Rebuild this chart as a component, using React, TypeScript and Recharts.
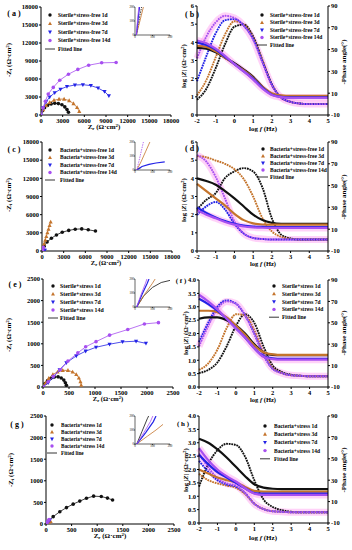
import React from "react";
import { ScatterChart, Scatter, ComposedChart, Line, XAxis, YAxis, Legend } from "recharts";

type Pt = [number, number];

const SERIF = "'Liberation Serif', 'Times New Roman', serif";
const COLORS = ["#111111", "#c4742c", "#2323e6", "#a74ff0"];
const MARKS = ["circle", "tri", "inv", "circle"];
const DAYS = ["1d", "3d", "7d", "14d"];

// log f (Hz) sample points shared by all Bode panels
const LOG_F = [-2, -1.5, -1, -0.5, 0, 0.5, 1, 1.5, 2, 2.5, 3, 3.5, 4, 4.5, 5];
const F_TICKS = [-2, -1, 0, 1, 2, 3, 4, 5];
const PHASE_TICKS = [-10, 10, 30, 50, 70, 90];
const Z_TICKS_6 = [0, 1, 2, 3, 4, 5, 6];
const Z_TICKS_4 = [0, 0.5, 1, 1.5, 2, 2.5, 3, 3.5, 4];
const NYQ_TICKS_BIG = [0, 3000, 6000, 9000, 12000, 15000, 18000];
const NYQ_TICKS_SMALL = [0, 500, 1000, 1500, 2000, 2500];
const INSET_TICKS = [0, 100, 200];

// (a) Sterile + stress-free, Nyquist
const A_1D: Pt[] = [[0, 0], [200, 700], [500, 1200], [900, 1600], [1400, 1850], [1900, 1950], [2400, 1900], [2900, 1700], [3300, 1350], [3600, 900], [3800, 450]];
const A_3D: Pt[] = [[0, 0], [300, 900], [700, 1600], [1200, 2100], [1800, 2450], [2500, 2650], [3200, 2650], [3900, 2400], [4500, 1900], [5000, 1250], [5300, 600]];
const A_7D: Pt[] = [[0, 0], [300, 1200], [700, 2200], [1200, 3000], [1900, 3700], [2700, 4300], [3600, 4750], [4700, 5000], [5800, 5050], [6900, 4900], [7900, 4500], [8800, 3900], [9400, 3200]];
const A_14D: Pt[] = [[0, 0], [300, 1200], [600, 2300], [1000, 3500], [1700, 4600], [2600, 5800], [3800, 6800], [5100, 7600], [6600, 8300], [8400, 8700], [10400, 8750]];
const IA_1D: Pt[] = [[8, 0], [18, 70], [28, 140], [38, 200]];
const IA_3D: Pt[] = [[8, 0], [22, 70], [36, 140], [48, 200]];
const IA_7D: Pt[] = [[8, 0], [14, 70], [20, 140], [26, 200]];
const IA_14D: Pt[] = [[8, 0], [12, 70], [17, 140], [22, 200]];

// (c) Bacteria + stress-free, Nyquist
const C_1D: Pt[] = [[0, 0], [300, 800], [700, 1500], [1300, 2100], [2000, 2650], [2800, 3100], [3700, 3400], [4600, 3600], [5500, 3650], [6400, 3500], [7400, 3300]];
const C_3D: Pt[] = [[0, 0], [150, 600], [300, 1200], [450, 1800], [600, 2400], [750, 3000], [900, 3600], [1050, 4200], [1200, 4800]];
const C_7D: Pt[] = [[0, 0], [100, 40], [200, 80], [300, 110], [400, 130]];
const C_14D: Pt[] = [[0, 0], [60, 200], [120, 400], [180, 600]];
const IC_1D: Pt[] = [[10, 0], [20, 10], [35, 18]];
const IC_3D: Pt[] = [[10, 0], [35, 60], [60, 130], [85, 200]];
const IC_7D: Pt[] = [[10, 0], [40, 25], [80, 40], [120, 50], [170, 58]];
const IC_14D: Pt[] = [[10, 0], [22, 60], [35, 130], [48, 200]];

// (e) Sterile + stress, Nyquist
const E_1D: Pt[] = [[0, 0], [40, 80], [90, 150], [150, 200], [220, 230], [290, 235], [350, 210], [400, 160], [430, 100], [450, 40]];
const E_3D: Pt[] = [[0, 0], [50, 100], [110, 200], [190, 290], [280, 350], [380, 385], [480, 385], [570, 350], [640, 290], [690, 210], [720, 120], [735, 40]];
const E_7D: Pt[] = [[0, 0], [100, 100], [200, 230], [320, 400], [450, 560], [640, 720], [820, 830], [1020, 920], [1280, 990], [1530, 1045], [1790, 1060], [1980, 1010]];
const E_14D: Pt[] = [[0, 0], [100, 120], [200, 250], [330, 400], [480, 600], [670, 790], [820, 930], [1020, 1050], [1280, 1200], [1630, 1330], [1950, 1460], [2220, 1490]];
const IE_1D: Pt[] = [[10, 0], [50, 80], [100, 140], [150, 175], [200, 190]];
const IE_3D: Pt[] = [[10, 0], [55, 90], [100, 170], [115, 200]];
const IE_7D: Pt[] = [[10, 0], [40, 90], [70, 170], [80, 200]];
const IE_14D: Pt[] = [[10, 0], [35, 90], [60, 170], [68, 200]];

// (g) Bacteria + stress, Nyquist
const G_1D: Pt[] = [[0, 0], [60, 80], [140, 170], [270, 285], [400, 380], [530, 460], [660, 530], [790, 595], [930, 645], [1080, 635], [1200, 600], [1300, 555]];
const G_3D: Pt[] = [[0, 0], [30, 20], [60, 40], [90, 60]];
const G_7D: Pt[] = [[0, 0], [25, 30], [50, 60], [75, 90]];
const G_14D: Pt[] = [[0, 0], [20, 35], [40, 70], [60, 105]];
const IG_1D: Pt[] = [[10, 0], [40, 90], [70, 180], [78, 200]];
const IG_3D: Pt[] = [[10, 0], [70, 55], [120, 100], [160, 140]];
const IG_7D: Pt[] = [[10, 0], [60, 80], [105, 160], [120, 200]];
const IG_14D: Pt[] = [[10, 0], [50, 80], [88, 160], [102, 200]];

// (b) Sterile + stress-free, Bode
const B_Z1D = [3.7, 3.65, 3.45, 3.15, 2.85, 2.5, 2.1, 1.55, 1.15, 1.02, 1.0, 1.0, 1.0, 1.0, 1.0];
const B_Z3D = [3.8, 3.75, 3.5, 3.15, 2.8, 2.45, 2.05, 1.55, 1.2, 1.08, 1.05, 1.05, 1.05, 1.05, 1.05];
const B_Z7D = [4.0, 3.85, 3.6, 3.2, 2.8, 2.4, 2.0, 1.5, 1.12, 1.0, 0.97, 0.97, 0.97, 0.97, 0.97];
const B_Z14D = [4.1, 3.95, 3.65, 3.25, 2.8, 2.4, 1.95, 1.45, 1.1, 0.98, 0.95, 0.95, 0.95, 0.95, 0.95];
const B_P1D = [4, 14, 33, 55, 71, 73, 62, 40, 18, 6, 2, 0.5, 0, 0, 0];
const B_P3D = [8, 22, 43, 64, 76, 73, 61, 40, 18, 6, 2, 0.5, 0, 0, 0];
const B_P7D = [21, 44, 65, 77, 78, 72, 60, 39, 18, 6, 2, 0.5, 0, 0, 0];
const B_P14D = [42, 62, 75, 81, 79, 72, 59, 38, 17, 6, 2, 0.5, 0, 0, 0];

// (d) Bacteria + stress-free, Bode
const D_Z1D = [4.0, 3.85, 3.65, 3.3, 2.9, 2.45, 2.0, 1.7, 1.55, 1.5, 1.5, 1.5, 1.5, 1.5, 1.5];
const D_Z3D = [3.7, 3.3, 2.9, 2.5, 2.05, 1.7, 1.52, 1.46, 1.45, 1.45, 1.45, 1.45, 1.45, 1.45, 1.45];
const D_Z7D = [2.4, 2.1, 1.85, 1.65, 1.5, 1.4, 1.35, 1.33, 1.32, 1.32, 1.32, 1.32, 1.32, 1.32, 1.32];
const D_Z14D = [2.25, 2.0, 1.8, 1.6, 1.45, 1.35, 1.3, 1.28, 1.27, 1.27, 1.27, 1.27, 1.27, 1.27, 1.27];
const D_P1D = [28, 37, 43, 57, 63, 66, 63, 48, 20, 5, 1.5, 0.5, 0.5, 0.5, 0.5];
const D_P3D = [77, 76, 73, 70, 65, 56, 40, 20, 8, 3, 1, 0.5, 0.5, 0.5, 0.5];
const D_P7D = [23, 31, 35, 28, 15, 6, 2, 1, 0.5, 0.5, 0.5, 0.5, 0.5, 0.5, 0.5];
const D_P14D = [78, 72, 58, 38, 17, 6, 2, 1, 0.5, 0.5, 0.5, 0.5, 0.5, 0.5, 0.5];

// (f) Sterile + stress, Bode
const F_Z1D = [2.55, 2.6, 2.6, 2.5, 2.3, 2.0, 1.6, 1.3, 1.2, 1.19, 1.19, 1.19, 1.19, 1.19, 1.19];
const F_Z3D = [2.85, 2.85, 2.8, 2.6, 2.3, 1.95, 1.55, 1.3, 1.22, 1.2, 1.2, 1.2, 1.2, 1.2, 1.2];
const F_Z7D = [3.3, 3.1, 2.85, 2.55, 2.2, 1.85, 1.45, 1.15, 1.07, 1.05, 1.05, 1.05, 1.05, 1.05, 1.05];
const F_Z14D = [3.45, 3.2, 2.9, 2.55, 2.2, 1.85, 1.45, 1.13, 1.04, 1.02, 1.02, 1.02, 1.02, 1.02, 1.02];
const F_P1D = [3, 6, 13, 28, 47, 58, 50, 28, 10, 4, 1.5, 0.5, 0, 0, 0];
const F_P3D = [6, 12, 25, 45, 58, 57, 43, 22, 8, 3, 1, 0.5, 0, 0, 0];
const F_P7D = [32, 50, 65, 71, 68, 57, 40, 20, 7, 3, 1, 0.5, 0, 0, 0];
const F_P14D = [28, 47, 63, 70, 68, 57, 40, 20, 7, 3, 1, 0.5, 0, 0, 0];

// (h) Bacteria + stress, Bode
const H_Z1D = [3.15, 3.0, 2.75, 2.45, 2.1, 1.75, 1.45, 1.32, 1.28, 1.27, 1.27, 1.27, 1.27, 1.27, 1.27];
const H_Z3D = [2.0, 1.85, 1.7, 1.6, 1.52, 1.35, 1.2, 1.17, 1.17, 1.17, 1.17, 1.17, 1.17, 1.17, 1.17];
const H_Z7D = [2.55, 2.2, 1.9, 1.7, 1.5, 1.3, 1.12, 1.1, 1.1, 1.1, 1.1, 1.1, 1.1, 1.1, 1.1];
const H_Z14D = [2.8, 2.35, 2.0, 1.75, 1.55, 1.3, 1.1, 1.05, 1.05, 1.05, 1.05, 1.05, 1.05, 1.05, 1.05];
const H_P1D = [24, 45, 58, 64, 63, 52, 30, 12, 5, 2, 0.5, 0, 0, 0, 0];
const H_P3D = [36, 30, 27, 25, 23, 17, 8, 3, 1, 0.5, 0, 0, 0, 0, 0];
const H_P7D = [48, 38, 30, 26, 24, 18, 8, 3, 1, 0.5, 0, 0, 0, 0, 0];
const H_P14D = [55, 42, 32, 27, 25, 18, 8, 3, 1, 0.5, 0, 0, 0, 0, 0];

const TICK = { fontSize: 6.5, fontFamily: SERIF, fontWeight: 700, fill: "#000" };
const INSET_TICK = { fontSize: 3, fontFamily: SERIF, fill: "#000" };

function Mark({ cx, cy, kind, color, r = 1.9 }: { cx?: number; cy?: number; kind: string; color: string; r?: number }) {
  if (cx == null || cy == null || isNaN(cx) || isNaN(cy)) return null;
  if (kind === "tri")
    return <polygon points={`${cx},${cy - r * 1.25} ${cx - r * 1.15},${cy + r * 0.85} ${cx + r * 1.15},${cy + r * 0.85}`} fill={color} />;
  if (kind === "inv")
    return <polygon points={`${cx},${cy + r * 1.25} ${cx - r * 1.15},${cy - r * 0.85} ${cx + r * 1.15},${cy - r * 0.85}`} fill={color} />;
  return <circle cx={cx} cy={cy} r={r} fill={color} />;
}

function LegendBox({ labels, dy, fs, dx }: { labels: string[]; dy: number; fs: number; dx: number }) {
  const fy = 5 + labels.length * dy;
  return (
    <svg width={125} height={fy + 6} style={{ display: "block", overflow: "visible" }}>
      {labels.map((t, i) => (
        <g key={t}>
          <Mark cx={6} cy={5 + i * dy} kind={MARKS[i]} color={COLORS[i]} r={1.7} />
          <text x={6 + dx} y={5 + i * dy} dy="0.35em" fontSize={fs} fontFamily={SERIF} fontWeight={700} fill="#000">
            {t}
          </text>
        </g>
      ))}
      <line x1={1} x2={11} y1={fy} y2={fy} stroke="#000" strokeWidth={0.8} />
      <text x={6 + dx} y={fy} dy="0.35em" fontSize={fs} fontFamily={SERIF} fontWeight={700} fill="#000">
        Fitted line
      </text>
    </svg>
  );
}

function Label({ x, y, rot = 0, size = 7, children }: { x: number; y: number; rot?: number; size?: number; children: React.ReactNode }) {
  return (
    <div
      style={{
        position: "absolute",
        left: x,
        top: y,
        transform: `translate(-50%, -50%) rotate(${rot}deg)`,
        whiteSpace: "nowrap",
        fontFamily: SERIF,
        fontWeight: 700,
        fontSize: size,
        lineHeight: 1,
        color: "#000",
      }}
    >
      {children}
    </div>
  );
}

const toXY = (pts: Pt[]) => pts.map(([x, y]) => ({ x, y }));

type Box = { l: number; r: number; t: number; b: number };
type Leg = { x: number; y: number; dy: number; fs: number; dx: number; labels: string[] };

function Inset({ x, y, series, max, dashed }: { x: number; y: number; series: Pt[][]; max: number; dashed: number[] }) {
  return (
    <div style={{ position: "absolute", left: x, top: y, background: "#fff" }}>
      <ScatterChart width={46} height={40} margin={{ left: 2, right: 3, top: 1, bottom: 6 }}>
        <XAxis type="number" dataKey="x" domain={[0, max]} ticks={INSET_TICKS} interval={0} height={5} tickSize={1} tickMargin={0} tick={INSET_TICK} stroke="#000" strokeWidth={0.6} allowDataOverflow />
        <XAxis xAxisId="top" orientation="top" type="number" dataKey="x" domain={[0, max]} height={0} tick={false} tickLine={false} stroke="#000" strokeWidth={0.6} />
        <YAxis type="number" dataKey="y" domain={[0, max]} ticks={INSET_TICKS} interval={0} width={6} tickSize={1} tickMargin={0} tick={INSET_TICK} stroke="#000" strokeWidth={0.6} allowDataOverflow />
        <YAxis yAxisId="right" orientation="right" type="number" dataKey="y" domain={[0, max]} width={0} tick={false} tickLine={false} stroke="#000" strokeWidth={0.6} />
        {series.map((pts, i) => (
          <Scatter
            key={i}
            data={toXY(pts)}
            line={{ stroke: COLORS[i], strokeWidth: i === 2 ? 1.2 : 0.8, strokeDasharray: dashed.includes(i) ? "1.5 1" : undefined }}
            lineType="joint"
            shape={() => <g />}
            isAnimationActive={false}
          />
        ))}
      </ScatterChart>
    </div>
  );
}

function NyquistPanel({ x, y, w, h, plot, max, ticks, series, leg, inset }: {
  x: number; y: number; w: number; h: number; plot: Box; max: number; ticks: number[]; series: Pt[][]; leg: Leg;
  inset: { series: Pt[][]; max: number; dashed: number[] };
}) {
  return (
    <div style={{ position: "absolute", left: x, top: y, width: w, height: h }}>
      <ScatterChart width={w} height={h} margin={{ left: plot.l - 28, right: w - plot.r, top: plot.t, bottom: h - plot.b - 10 }}>
        <XAxis type="number" dataKey="x" domain={[0, max]} ticks={ticks} interval={0} height={10} tickSize={2} tickMargin={1} tick={TICK} stroke="#000" allowDataOverflow />
        <XAxis xAxisId="top" orientation="top" type="number" dataKey="x" domain={[0, max]} height={0} tick={false} tickLine={false} stroke="#000" />
        <YAxis type="number" dataKey="y" domain={[0, max]} ticks={ticks} interval={0} width={28} tickSize={2} tickMargin={1} tick={TICK} stroke="#000" allowDataOverflow />
        <YAxis yAxisId="right" orientation="right" type="number" dataKey="y" domain={[0, max]} width={0} tick={false} tickLine={false} stroke="#000" />
        {series.map((pts, i) => (
          <Scatter
            key={i}
            data={toXY(pts)}
            fill={COLORS[i]}
            line={{ stroke: COLORS[i], strokeWidth: 0.8 }}
            lineType="joint"
            shape={(p: any) => <Mark cx={p.cx} cy={p.cy} kind={MARKS[i]} color={COLORS[i]} r={1.8} />}
            isAnimationActive={false}
          />
        ))}
        <Legend
          layout="vertical"
          align="center"
          verticalAlign="middle"
          wrapperStyle={{ left: leg.x - x - 6, top: leg.y - y - 5, width: 125, height: leg.dy * 5 + 10 }}
          content={() => <LegendBox labels={leg.labels} dy={leg.dy} fs={leg.fs} dx={leg.dx} />}
        />
      </ScatterChart>
      <Inset x={127 - x} y={plot.t - 1} series={inset.series} max={inset.max} dashed={inset.dashed} />
    </div>
  );
}

function bodeRows(z: number[][], p: number[][]) {
  return LOG_F.map((f, i) => ({
    f,
    z0: z[0][i], z1: z[1][i], z2: z[2][i], z3: z[3][i],
    p0: p[0][i], p1: p[1][i], p2: p[2][i], p3: p[3][i],
  }));
}

function BodePanel({ x, y, w, h, plot, zMax, zTicks, rows, leg }: {
  x: number; y: number; w: number; h: number; plot: Box; zMax: number; zTicks: number[]; rows: any[]; leg: Leg;
}) {
  const fmt = (v: number) => (zMax === 4 ? v.toFixed(1) : String(v));
  return (
    <div style={{ position: "absolute", left: x, top: y, width: w, height: h }}>
      <ComposedChart width={w} height={h} data={rows} margin={{ left: plot.l - 14, right: w - plot.r - 14, top: plot.t, bottom: h - plot.b - 10 }}>
        <XAxis dataKey="f" type="number" domain={[-2, 5]} ticks={F_TICKS} interval={0} height={10} tickSize={2} tickMargin={1} tick={TICK} stroke="#000" />
        <XAxis xAxisId="top" orientation="top" dataKey="f" type="number" domain={[-2, 5]} height={0} tick={false} tickLine={false} stroke="#000" />
        <YAxis yAxisId="z" domain={[0, zMax]} ticks={zTicks} interval={0} tickFormatter={fmt} width={14} tickSize={2} tickMargin={1} tick={TICK} stroke="#000" />
        <YAxis yAxisId="p" orientation="right" domain={[-10, 90]} ticks={PHASE_TICKS} interval={0} width={14} tickSize={2} tickMargin={1} tick={TICK} stroke="#000" />
        <Line yAxisId="z" dataKey="z3" type="monotone" stroke="#ff9cf0" strokeOpacity={0.45} strokeWidth={7} dot={false} isAnimationActive={false} />
        <Line yAxisId="p" dataKey="p3" type="monotone" stroke="#ff9cf0" strokeOpacity={0.45} strokeWidth={7} dot={false} isAnimationActive={false} />
        {[0, 1, 2, 3].map((i) => (
          <Line key={"p" + i} yAxisId="p" dataKey={"p" + i} type="monotone" stroke={COLORS[i]} strokeWidth={1.9} strokeDasharray="1.8 0.8" dot={false} isAnimationActive={false} />
        ))}
        {[0, 1, 2, 3].map((i) => (
          <Line key={"z" + i} yAxisId="z" dataKey={"z" + i} type="monotone" stroke={COLORS[i]} strokeWidth={2.2} dot={false} isAnimationActive={false} />
        ))}
        <Legend
          layout="vertical"
          align="center"
          verticalAlign="middle"
          wrapperStyle={{ left: leg.x - x - 6, top: leg.y - y - 5, width: 125, height: leg.dy * 5 + 10 }}
          content={() => <LegendBox labels={leg.labels} dy={leg.dy} fs={leg.fs} dx={leg.dx} />}
        />
      </ComposedChart>
    </div>
  );
}

const names = (prefix: string) => DAYS.map((d) => `${prefix} ${d}`);

const ZiTitle = () => (
  <span>
    -Z<sub style={{ fontSize: "0.7em", verticalAlign: "-0.25em" }}>i</sub> (Ω·cm<sup style={{ fontSize: "0.7em", verticalAlign: "0.4em" }}>2</sup>)
  </span>
);
const ZrTitle = () => (
  <span>
    Z<sub style={{ fontSize: "0.7em", verticalAlign: "-0.25em" }}>r</sub> (Ω·cm<sup style={{ fontSize: "0.7em", verticalAlign: "0.4em" }}>2</sup>)
  </span>
);
const LogZTitle = () => (
  <span>
    log |<i>Z</i>| (Ω·cm<sup style={{ fontSize: "0.7em", verticalAlign: "0.4em" }}>2</sup>)
  </span>
);
const FTitle = () => (
  <span>
    log <i>f</i> (Hz)
  </span>
);

export default function App() {
  return (
    <div style={{ position: "absolute", left: 0, top: 0, width: 352, height: 550, background: "#fff", overflow: "hidden" }}>
      <style>{".recharts-surface { overflow: visible; }"}</style>
      <NyquistPanel
        x={0} y={0} w={176} h={135} plot={{ l: 41, r: 171, t: 7, b: 115 }} max={18000} ticks={NYQ_TICKS_BIG}
        series={[A_1D, A_3D, A_7D, A_14D]}
        leg={{ x: 50, y: 15, dy: 8.5, fs: 5.5, dx: 8, labels: names("Sterile+stress-free") }}
        inset={{ series: [IA_1D, IA_3D, IA_7D, IA_14D], max: 200, dashed: [0] }}
      />
      <BodePanel
        x={176} y={0} w={176} h={135} plot={{ l: 21, r: 152, t: 6, b: 115 }} zMax={6} zTicks={Z_TICKS_6}
        rows={bodeRows([B_Z1D, B_Z3D, B_Z7D, B_Z14D], [B_P1D, B_P3D, B_P7D, B_P14D])}
        leg={{ x: 262, y: 15, dy: 7.5, fs: 5.5, dx: 8, labels: names("Sterile+stress-free") }}
      />
      <NyquistPanel
        x={0} y={135} w={176} h={135} plot={{ l: 42, r: 172, t: 7, b: 116 }} max={18000} ticks={NYQ_TICKS_BIG}
        series={[C_1D, C_3D, C_7D, C_14D]}
        leg={{ x: 50, y: 150, dy: 7.5, fs: 5.5, dx: 10, labels: names("Bacteria+stress-free") }}
        inset={{ series: [IC_1D, IC_3D, IC_7D, IC_14D], max: 200, dashed: [3] }}
      />
      <BodePanel
        x={176} y={135} w={176} h={135} plot={{ l: 21, r: 152, t: 7, b: 116 }} zMax={6} zTicks={Z_TICKS_6}
        rows={bodeRows([D_Z1D, D_Z3D, D_Z7D, D_Z14D], [D_P1D, D_P3D, D_P7D, D_P14D])}
        leg={{ x: 263, y: 149, dy: 7, fs: 5.5, dx: 7, labels: names("Bacteria+stress-free") }}
      />
      <NyquistPanel
        x={0} y={270} w={176} h={140} plot={{ l: 43, r: 173, t: 9, b: 117 }} max={2500} ticks={NYQ_TICKS_SMALL}
        series={[E_1D, E_3D, E_7D, E_14D]}
        leg={{ x: 53, y: 286, dy: 8, fs: 5.8, dx: 7, labels: names("Sterile+stress") }}
        inset={{ series: [IE_1D, IE_3D, IE_7D, IE_14D], max: 200, dashed: [] }}
      />
      <BodePanel
        x={176} y={270} w={176} h={140} plot={{ l: 23, r: 152, t: 10, b: 117 }} zMax={4} zTicks={Z_TICKS_4}
        rows={bodeRows([F_Z1D, F_Z3D, F_Z7D, F_Z14D], [F_P1D, F_P3D, F_P7D, F_P14D])}
        leg={{ x: 274, y: 286, dy: 7.8, fs: 5.5, dx: 8, labels: names("Sterile+stress") }}
      />
      <NyquistPanel
        x={0} y={410} w={176} h={140} plot={{ l: 46, r: 174, t: 6, b: 114 }} max={2500} ticks={NYQ_TICKS_SMALL}
        series={[G_1D, G_3D, G_7D, G_14D]}
        leg={{ x: 52, y: 425, dy: 7, fs: 5.2, dx: 9, labels: names("Bacteria+stress") }}
        inset={{ series: [IG_1D, IG_3D, IG_7D, IG_14D], max: 200, dashed: [] }}
      />
      <BodePanel
        x={176} y={410} w={176} h={140} plot={{ l: 23, r: 152, t: 6, b: 113 }} zMax={4} zTicks={Z_TICKS_4}
        rows={bodeRows([H_Z1D, H_Z3D, H_Z7D, H_Z14D], [H_P1D, H_P3D, H_P7D, H_P14D])}
        leg={{ x: 265, y: 426, dy: 8.2, fs: 5.5, dx: 9, labels: names("Bacteria+stress") }}
      />

      <Label x={14} y={14} size={8}>( a )</Label>
      <Label x={192} y={15} size={8}>( b )</Label>
      <Label x={14} y={150} size={8}>( c )</Label>
      <Label x={192} y={149} size={8}>( d )</Label>
      <Label x={15} y={285} size={8}>( e )</Label>
      <Label x={181} y={281} size={7}>( f )</Label>
      <Label x={17} y={425} size={8}>( g )</Label>
      <Label x={183} y={424} size={7}>( h )</Label>

      <Label x={10} y={60} rot={-90}><ZiTitle /></Label>
      <Label x={104} y={128}><ZrTitle /></Label>
      <Label x={184} y={66} rot={-90}><LogZTitle /></Label>
      <Label x={344} y={62} rot={-90}>-Phase angle(°)</Label>
      <Label x={263} y={129}><FTitle /></Label>

      <Label x={10} y={195} rot={-90}><ZiTitle /></Label>
      <Label x={106} y={264} size={6.5}><ZrTitle /></Label>
      <Label x={184} y={200} rot={-90}><LogZTitle /></Label>
      <Label x={344} y={197} rot={-90}>-Phase angle(°)</Label>
      <Label x={263} y={264} size={6.5}><FTitle /></Label>

      <Label x={10} y={335} rot={-90}><ZiTitle /></Label>
      <Label x={108} y={400} size={6.5}><ZrTitle /></Label>
      <Label x={186} y={333} rot={-90}><LogZTitle /></Label>
      <Label x={344} y={333} rot={-90}>-Phase angle(°)</Label>
      <Label x={263} y={400} size={6.5}><FTitle /></Label>

      <Label x={12} y={470} rot={-90}><ZiTitle /></Label>
      <Label x={110} y={537}><ZrTitle /></Label>
      <Label x={186} y={470} rot={-90}><LogZTitle /></Label>
      <Label x={344} y={470} rot={-90}>-Phase angle(°)</Label>
      <Label x={263} y={538}><FTitle /></Label>
    </div>
  );
}
